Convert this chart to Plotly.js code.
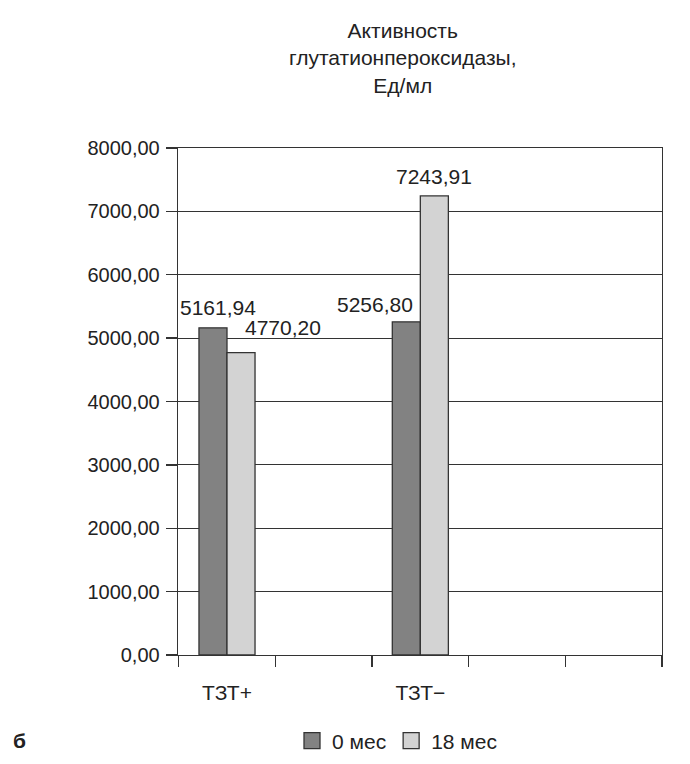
<!DOCTYPE html>
<html>
<head>
<meta charset="utf-8">
<script src="https://cdn.plot.ly/plotly-3.0.1.min.js"></script>
<style>
  html, body { margin: 0; padding: 0; background: #fff; }
  #chart { width: 690px; height: 764px; }
</style>
</head>
<body>
<div id="chart"></div>
<script>
// Glutathione peroxidase activity, U/ml, by group and time point
const categories = ['ТЗТ+', ' ', 'ТЗТ−', '  ', '   '];
const seriesNames = ['0 мес', '18 мес'];
const month0 = [5161.94, null, 5256.80, null, null];
const month18 = [4770.20, null, 7243.91, null, null];
const seriesColors = ['#828282', '#d3d3d3'];

const font = 'Liberation Sans, Arial, sans-serif';
const ink = '#333333';
const txt = '#222222';

const fmt = v => v.toFixed(2).replace('.', ',');

const bar = (name, y, color) => ({
  type: 'bar',
  name: name,
  x: categories,
  y: y,
  marker: { color: color, line: { color: ink, width: 1.3 } },
  showlegend: false,
  hoverinfo: 'skip'
});

// legend proxies: bigger squares than the fixed bar legend glyph
const key = (name, color) => ({
  type: 'scatter',
  mode: 'markers',
  name: name,
  x: [categories[0]],
  y: [null],
  marker: { symbol: 'square', size: 16, color: color, line: { color: ink, width: 1.3 } },
  hoverinfo: 'skip'
});

const data = [
  bar(seriesNames[0], month0, seriesColors[0]),
  bar(seriesNames[1], month18, seriesColors[1]),
  key(seriesNames[0], seriesColors[0]),
  key(seriesNames[1], seriesColors[1])
];

// value labels sit where the original chart left them (px shift from bar centre, gap above bar)
const labelNudge = [
  [[5, 7], null, [-31, 4], null, null],
  [[42, 12], null, [0, 6], null, null]
];
const labels = [];
[month0, month18].forEach((series, s) => {
  series.forEach((v, i) => {
    if (v == null) return;
    const n = labelNudge[s][i];
    labels.push({
      x: categories[i], y: v, xref: 'x', yref: 'y',
      text: fmt(v), showarrow: false,
      xanchor: 'center', yanchor: 'bottom',
      xshift: (s === 0 ? -14 : 14) + n[0], yshift: n[1],
      font: { family: font, size: 21, color: txt }
    });
  });
});

const layout = {
  width: 690,
  height: 764,
  paper_bgcolor: '#fff',
  plot_bgcolor: '#fff',
  font: { family: font, size: 20, color: txt },
  separators: ',.',
  margin: { l: 178, r: 28, t: 148, b: 109, autoexpand: false },
  barmode: 'group',
  bargap: 0.42,
  bargroupgap: 0,
  showlegend: true,
  legend: {
    orientation: 'h',
    xref: 'container', yref: 'container',
    x: 397 / 690, xanchor: 'center',
    y: (764 - 741) / 764, yanchor: 'middle',
    font: { family: font, size: 21, color: txt },
    itemwidth: 30,
    traceorder: 'normal'
  },
  xaxis: {
    type: 'category',
    categoryorder: 'array',
    categoryarray: categories,
    tickson: 'boundaries',
    ticks: 'outside',
    ticklen: 11,
    tickwidth: 1.3,
    tickcolor: ink,
    showline: true,
    mirror: true,
    linecolor: ink,
    linewidth: 1.3,
    showgrid: false,
    automargin: false,
    ticklabelstandoff: 18,
    tickfont: { family: font, size: 21, color: txt },
    fixedrange: true
  },
  yaxis: {
    range: [0, 8000],
    dtick: 1000,
    tickformat: '.2f',
    ticks: 'outside',
    ticklen: 11,
    tickwidth: 1.3,
    tickcolor: ink,
    showline: true,
    mirror: true,
    linecolor: ink,
    linewidth: 1.3,
    showgrid: true,
    gridcolor: ink,
    gridwidth: 1,
    zeroline: false,
    automargin: false,
    ticklabelstandoff: 2,
    tickfont: { family: font, size: 20, color: txt },
    fixedrange: true
  },
  annotations: labels.concat([
    {
      text: 'Активность<br>глутатионпероксидазы,<br>Ед/мл',
      xref: 'paper', yref: 'paper',
      x: (403 - 178) / 484, y: 1 + (148 - 58) / 507,
      xanchor: 'center', yanchor: 'middle',
      showarrow: false,
      align: 'center',
      font: { family: font, size: 21, color: txt }
    },
    {
      text: '<b>б</b>',
      xref: 'paper', yref: 'paper',
      x: (19 - 178) / 484, y: -(740 - 655) / 507,
      xanchor: 'center', yanchor: 'middle',
      showarrow: false,
      font: { family: 'Liberation Sans Narrow, Liberation Sans, sans-serif', size: 21, color: txt }
    }
  ])
};

Plotly.newPlot('chart', data, layout, { displayModeBar: false, staticPlot: true });
</script>
</body>
</html>
